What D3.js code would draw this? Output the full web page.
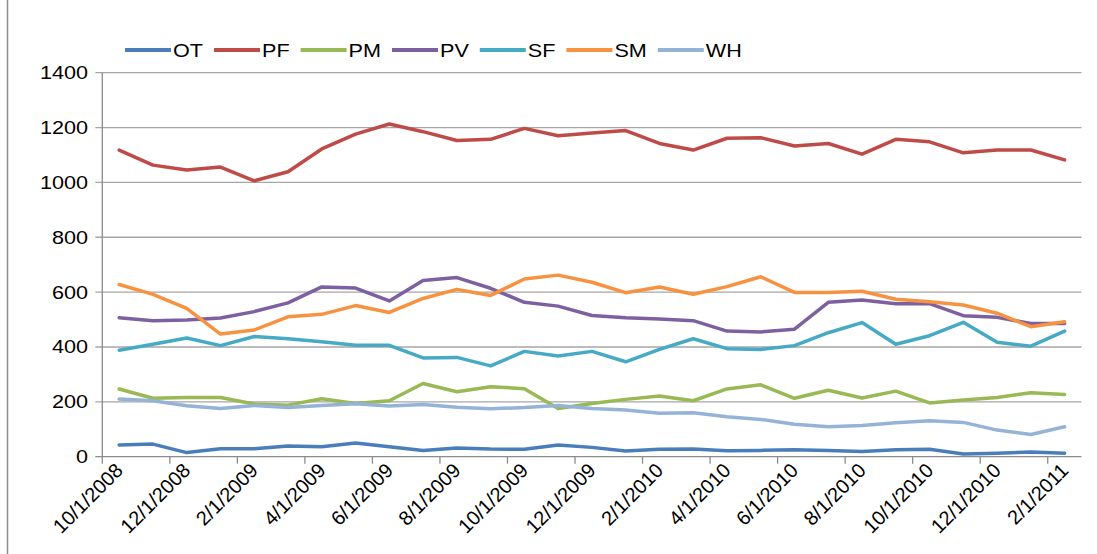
<!DOCTYPE html>
<html>
<head>
<meta charset="utf-8">
<script src="https://cdn.jsdelivr.net/npm/d3@7"></script>
<style>
  body { margin: 0; background: #fff; }
  text { font-family: "Liberation Sans", Arial, sans-serif; fill: #000; }
</style>
</head>
<body>
<div id="chart"></div>
<script>
'use strict';

// monthly categories
var months = ["10/1/2008", "11/1/2008", "12/1/2008", "1/1/2009", "2/1/2009", "3/1/2009",
    "4/1/2009", "5/1/2009", "6/1/2009", "7/1/2009", "8/1/2009", "9/1/2009",
    "10/1/2009", "11/1/2009", "12/1/2009", "1/1/2010", "2/1/2010", "3/1/2010",
    "4/1/2010", "5/1/2010", "6/1/2010", "7/1/2010", "8/1/2010", "9/1/2010",
    "10/1/2010", "11/1/2010", "12/1/2010", "1/1/2011", "2/1/2011"];

var seriesNames = ["OT", "PF", "PM", "PV", "SF", "SM", "WH"];
var seriesColors = ["#4a7ebb", "#be4b48", "#98b954", "#7d60a0", "#46aac5", "#f69240", "#95b3d7"];

var OT = [43, 46, 15, 29, 29, 39, 36, 50, 36, 23, 32, 28, 27, 43, 34, 21, 27, 28,
    22, 23, 25, 23, 19, 25, 27, 10, 13, 17, 13];
var PF = [1118, 1063, 1045, 1056, 1006, 1039, 1122, 1176, 1213, 1185, 1153, 1157, 1197, 1170, 1180, 1189, 1142, 1118,
    1161, 1163, 1133, 1142, 1103, 1157, 1148, 1108, 1118, 1118, 1082];
var PM = [247, 213, 216, 216, 192, 188, 211, 194, 204, 267, 237, 255, 248, 176, 194, 209, 221, 204,
    247, 262, 213, 242, 214, 239, 196, 207, 216, 233, 227];
var PV = [507, 496, 498, 506, 529, 561, 619, 615, 568, 642, 653, 614, 563, 549, 515, 507, 502, 496,
    458, 455, 465, 563, 571, 558, 558, 514, 508, 486, 486];
var SF = [388, 410, 433, 405, 438, 430, 419, 406, 406, 360, 362, 331, 384, 367, 384, 346, 391, 430,
    394, 391, 405, 452, 489, 410, 441, 490, 417, 403, 458];
var SM = [628, 592, 541, 447, 462, 510, 519, 551, 526, 577, 610, 588, 648, 662, 636, 598, 619, 592,
    620, 656, 599, 599, 603, 574, 565, 553, 523, 474, 492];
var WH = [210, 204, 186, 176, 187, 179, 187, 193, 185, 190, 180, 175, 179, 187, 176, 170, 158, 160,
    146, 136, 118, 109, 114, 124, 131, 125, 97, 81, 109];

var yTicks = [0, 200, 400, 600, 800, 1000, 1200, 1400];

var seriesData = [OT, PF, PM, PV, SF, SM, WH];

var width = 1097, height = 554;
var plot = {left: 102.3, right: 1081.5, top: 72.7, bottom: 456.7};
var sx = 1.2; // text in the picture is a bit wider than it is tall

var svg = d3.select("#chart").append("svg")
    .attr("width", width)
    .attr("height", height);

var x = d3.scaleBand()
    .domain(months)
    .range([plot.left, plot.right])
    .padding(0);

var y = d3.scaleLinear()
    .domain([0, 1400])
    .range([plot.bottom, plot.top]);

// chart area border on the left
svg.append("line")
    .attr("x1", 7.5).attr("x2", 7.5)
    .attr("y1", 0).attr("y2", height)
    .style("stroke", "#8c8c8c")
    .style("stroke-width", 1.5);

// gridlines + y tick marks
svg.append("g").selectAll("line.grid")
    .data(yTicks)
    .enter().append("line")
    .attr("class", "grid")
    .attr("x1", plot.left - 7)
    .attr("x2", plot.right)
    .attr("y1", function(d) { return y(d); })
    .attr("y2", function(d) { return y(d); })
    .style("stroke", function(d) { return d === 0 ? "#8c8c8c" : "#a6a6a6"; })
    .style("stroke-width", 1.3);

svg.append("g").selectAll("text.ylab")
    .data(yTicks)
    .enter().append("text")
    .attr("class", "ylab")
    .attr("transform", function(d) {
        return "translate(88," + (y(d) + 6.5) + ") scale(" + sx + ",1)";
    })
    .style("text-anchor", "end")
    .style("font-size", "18px")
    .text(function(d) { return d; });

// y axis line
svg.append("line")
    .attr("x1", plot.left).attr("x2", plot.left)
    .attr("y1", plot.top).attr("y2", plot.bottom)
    .style("stroke", "#8c8c8c")
    .style("stroke-width", 1.3);

// x tick marks every 2 months, on category boundaries
var labelled = months.filter(function(d, i) { return i % 2 === 0; });

svg.append("g").selectAll("line.xtick")
    .data(labelled)
    .enter().append("line")
    .attr("class", "xtick")
    .attr("x1", function(d) { return x(d); })
    .attr("x2", function(d) { return x(d); })
    .attr("y1", plot.bottom)
    .attr("y2", plot.bottom + 7)
    .style("stroke", "#8c8c8c")
    .style("stroke-width", 1.3);

svg.append("g").selectAll("text.xlab")
    .data(labelled)
    .enter().append("text")
    .attr("class", "xlab")
    .attr("transform", function(d) {
        return "translate(" + (x(d) + x.bandwidth() / 2 + 5) + "," + (plot.bottom + 15) + ") rotate(-45)";
    })
    .style("text-anchor", "end")
    .style("font-size", "20px")
    .text(function(d) { return d; });

// the lines
var line = d3.line()
    .x(function(d, i) { return x(months[i]) + x.bandwidth() / 2; })
    .y(function(d) { return y(d); });

svg.append("g").selectAll("path.series")
    .data(seriesData)
    .enter().append("path")
    .attr("class", "series")
    .attr("d", line)
    .style("fill", "none")
    .style("stroke", function(d, i) { return seriesColors[i]; })
    .style("stroke-width", 3.5)
    .style("stroke-linejoin", "round")
    .style("stroke-linecap", "round");

// legend
var legend = svg.append("g");
var lx = 125;
seriesNames.forEach(function(name, i) {
    legend.append("line")
        .attr("x1", lx).attr("x2", lx + 46)
        .attr("y1", 50).attr("y2", 50)
        .style("stroke", seriesColors[i])
        .style("stroke-width", 4);
    var t = legend.append("text")
        .attr("transform", "translate(" + (lx + 48) + ",57) scale(" + sx + ",1)")
        .style("font-size", "18px")
        .text(name);
    lx += 48 + t.node().getComputedTextLength() * sx + 11;
});
</script>
</body>
</html>
